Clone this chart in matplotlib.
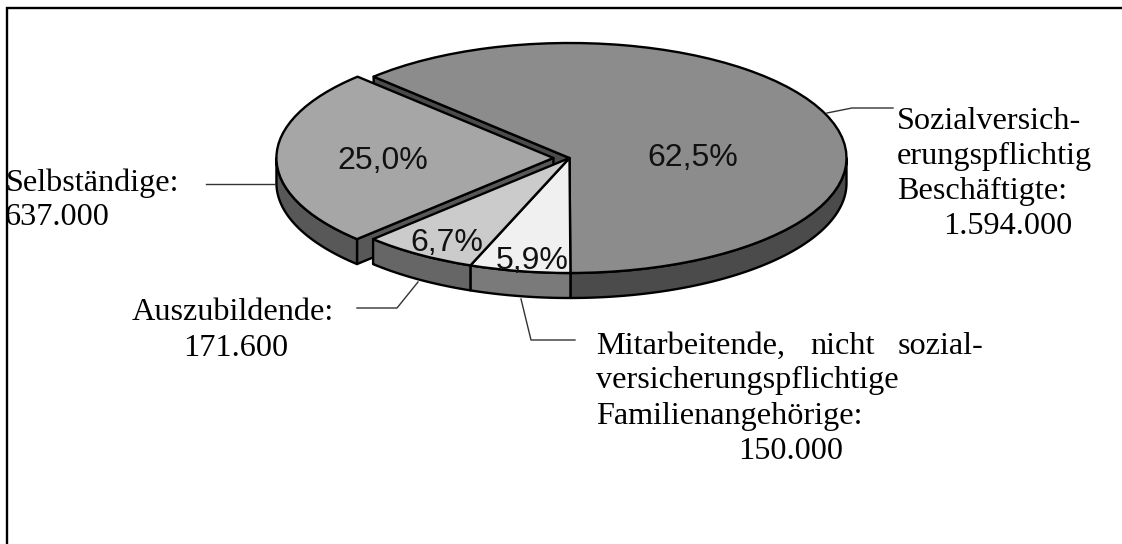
import numpy as np
import matplotlib
matplotlib.use("Agg")
import matplotlib.pyplot as plt
from matplotlib.lines import Line2D

W, H = 1122, 544

# values in order round the pie, clockwise from the upper left
names = ["Sozialversicherungspflichtig", "Mitarbeitende", "Auszubildende", "Selbstaendige"]
employees = [1594000, 150000, 171600, 637000]
pct_labels = ["62,5%", "5,9%", "6,7%", "25,0%"]
top_colors = ["#8c8c8c", "#f0f0f0", "#cbcbcb", "#a6a6a6"]
side_colors = ["#4b4b4b", "#7a7a7a", "#666666", "#585858"]
explode = [0, 0, 0, 0.058]

# pie geometry in pixels
cx, cy, rx, ry, depth = 569.5, 158, 277, 115, 25

# pixel position of the percent labels
pct_pos = [(692.5, 158), (532, 261), (447, 243), (383, 161)]

# text lines: text, x, baseline y
text_lines = [
    ("Sozialversich-", 897, 129),
    ("erungspflichtig", 897, 164),
    ("Beschäftigte:", 897, 199),
    ("1.594.000", 943, 234),
    ("Selbständige:", 6, 191),
    ("637.000", 5, 225),
    ("Auszubildende:", 132, 320),
    ("171.600", 183, 356),
    ("Mitarbeitende,", 596, 354),
    ("nicht", 810, 354),
    ("sozial-", 898, 354),
    ("versicherungspflichtige", 596, 388),
    ("Familienangehörige:", 596, 424),
    ("150.000", 738, 459),
]

leaders = [
    ([827, 852, 893], [113, 108, 108]),
    ([206, 275], [184, 184]),
    ([357, 397, 418], [308, 308, 282]),
    ([521, 531, 575], [299, 340, 340]),
]

# only the left and top frame lines are in the picture
border_x = [7, 7, 1122]
border_y = [544, 8, 8]


def px_line(fig, xs, ys, **kw):
    fig.add_artist(Line2D(np.array(xs) / W, 1 - np.array(ys) / H, transform=fig.transFigure, **kw))


fig = plt.figure(figsize=(W / 100, H / 100), dpi=100)
ax = fig.add_axes((0, 0, 1, 1))

wedges, _ = ax.pie(employees, colors=top_colors, startangle=135, counterclock=False,
                   explode=explode, radius=1, normalize=True,
                   wedgeprops={"edgecolor": "black", "linewidth": 1.7, "joinstyle": "round"})
ax.set_aspect("auto")
ax.set_xlim(-cx / rx, (W - cx) / rx)
ax.set_ylim(-(H - cy) / ry, cy / ry)
ax.axis("off")

d = depth / ry
edge = {"edgecolor": "black", "linewidth": 1.7, "joinstyle": "round"}

# main pie is everything but the exploded slice
for i, w in enumerate(wedges):
    is_out = explode[i] > 0
    w.set_zorder(6 if is_out else 10)
    x0, y0 = w.center

    # outer wall, only the part facing down
    t = np.radians(np.linspace(w.theta1, w.theta2, 500))
    t = t[np.sin(t) <= 0]
    if len(t) > 1:
        xs = x0 + np.cos(t)
        ys = y0 + np.sin(t)
        ax.fill(np.r_[xs, xs[::-1]], np.r_[ys, ys[::-1] - d], facecolor=side_colors[i],
                zorder=8 if not is_out else 5, **edge)

    # cut faces
    if is_out or i == 0:
        a = np.radians(w.theta2)
        xe, ye = x0 + np.cos(a), y0 + np.sin(a)
        ax.fill([x0, xe, xe, x0], [y0, ye, ye - d, y0 - d], facecolor=side_colors[i],
                zorder=4 if is_out else 2, **edge)

for lab, (x, y) in zip(pct_labels, pct_pos):
    ax.text(x / W, 1 - y / H, lab, transform=ax.transAxes, ha="center", va="center",
            family="Liberation Sans", fontsize=23, color="#111111", zorder=12)

for lab, x, y in text_lines:
    fig.text(x / W, 1 - y / H, lab, family="Liberation Serif", fontsize=23.2,
             color="black", ha="left", va="baseline")

for xs, ys in leaders:
    px_line(fig, xs, ys, color="#333333", linewidth=1.0)

px_line(fig, border_x, border_y, color="black", linewidth=1.7, solid_joinstyle="miter")

fig.savefig("out.png", dpi=100)
